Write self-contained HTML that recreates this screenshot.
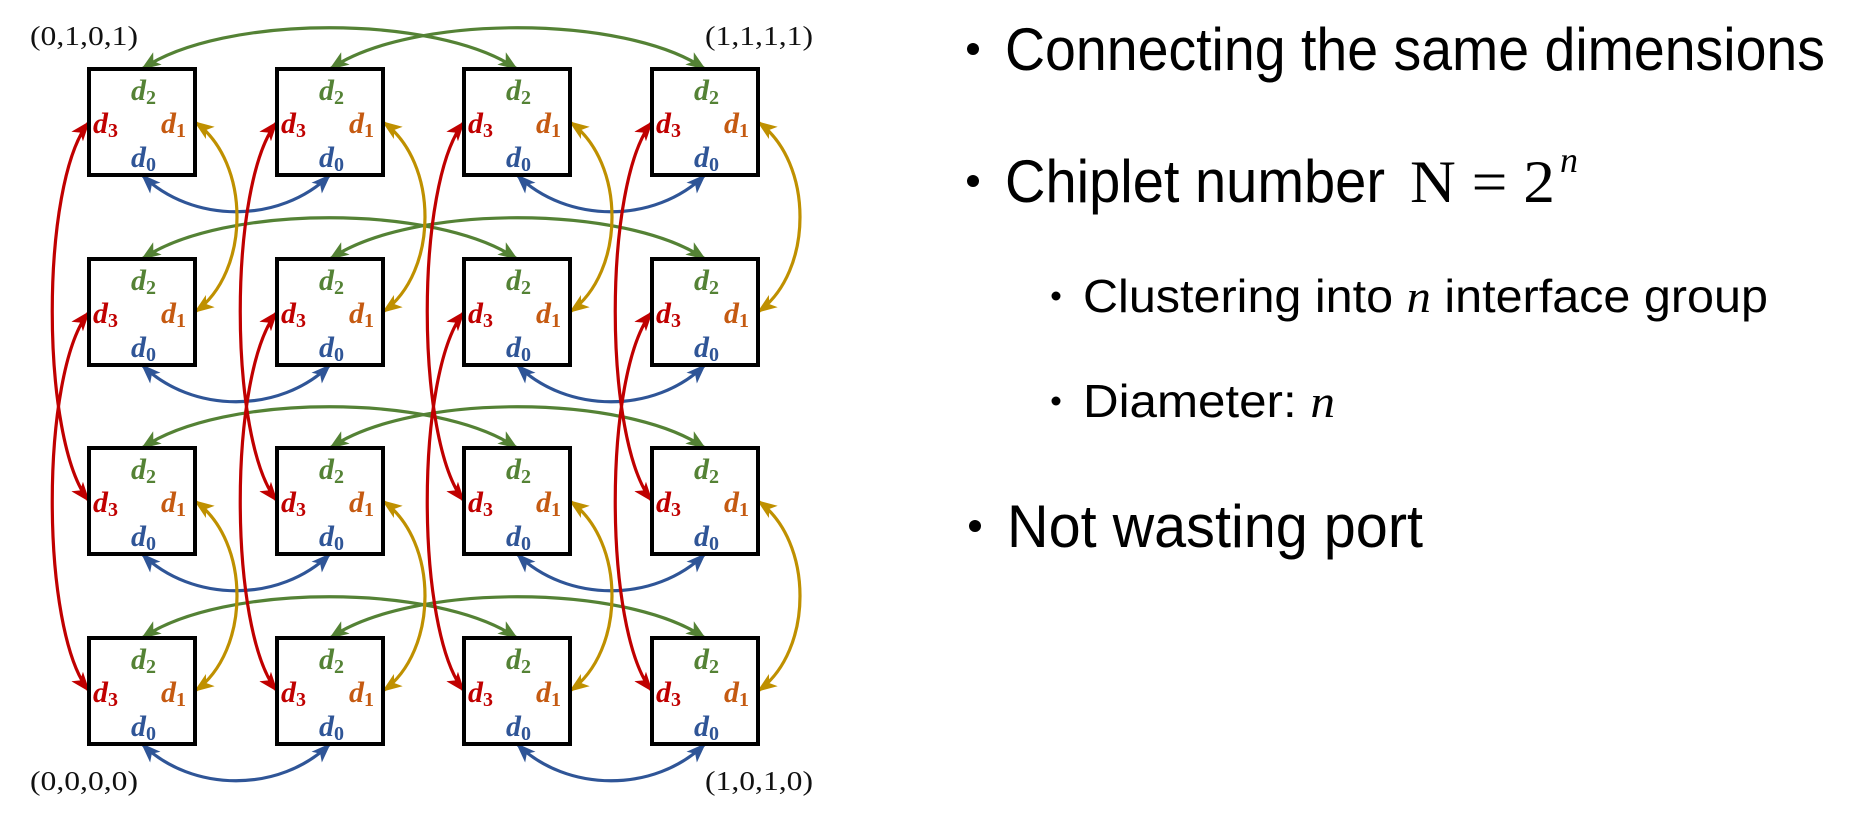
<!DOCTYPE html>
<html><head><meta charset="utf-8"><style>
html,body{margin:0;padding:0;background:#fff;}
svg{display:block;}
.dl{font-family:"Liberation Serif",serif;font-weight:bold;font-style:italic;font-size:30px;}
.sb{font-family:"Liberation Serif",serif;font-weight:bold;font-style:normal;font-size:20px;}
.lab{font-family:"Liberation Serif",serif;font-size:27px;fill:#111;}
.t{font-family:"Liberation Sans",sans-serif;fill:#000;}
</style></head><body>
<svg width="1849" height="813" viewBox="0 0 1849 813" xmlns="http://www.w3.org/2000/svg">
<defs>
<marker id="mg" viewBox="0 0 16 12" refX="15" refY="6" markerWidth="20" markerHeight="15" markerUnits="userSpaceOnUse" orient="auto-start-reverse"><path d="M0 0 L16 6 L0 12 L4 6z" fill="#548235"/></marker>
<marker id="mb" viewBox="0 0 16 12" refX="15" refY="6" markerWidth="20" markerHeight="15" markerUnits="userSpaceOnUse" orient="auto-start-reverse"><path d="M0 0 L16 6 L0 12 L4 6z" fill="#2F5597"/></marker>
<marker id="my" viewBox="0 0 16 12" refX="15" refY="6" markerWidth="20" markerHeight="15" markerUnits="userSpaceOnUse" orient="auto-start-reverse"><path d="M0 0 L16 6 L0 12 L4 6z" fill="#BF9000"/></marker>
<marker id="mr" viewBox="0 0 16 12" refX="15" refY="6" markerWidth="20" markerHeight="15" markerUnits="userSpaceOnUse" orient="auto-start-reverse"><path d="M0 0 L16 6 L0 12 L4 6z" fill="#C00000"/></marker>
</defs>
<g id="diagram" fill="none" stroke-width="3.2"></g>
<text class="lab" x="30" y="45" textLength="108" lengthAdjust="spacingAndGlyphs">(0,1,0,1)</text>
<text class="lab" x="705" y="45" textLength="108" lengthAdjust="spacingAndGlyphs">(1,1,1,1)</text>
<text class="lab" x="30" y="790" textLength="108" lengthAdjust="spacingAndGlyphs">(0,0,0,0)</text>
<text class="lab" x="705" y="790" textLength="108" lengthAdjust="spacingAndGlyphs">(1,0,1,0)</text>

<g class="t">
<circle cx="973" cy="49" r="6"/>
<text x="1005" y="70" font-size="60" textLength="820" lengthAdjust="spacingAndGlyphs">Connecting the same dimensions</text>
<circle cx="973" cy="181" r="6"/>
<text x="1005" y="202" font-size="60" textLength="380" lengthAdjust="spacingAndGlyphs">Chiplet number</text>
<text x="1410" y="202" font-size="60" font-family="Liberation Serif" textLength="145" lengthAdjust="spacingAndGlyphs">N = 2</text>
<text x="1560" y="172" font-size="36" font-family="Liberation Serif" font-style="italic">n</text>
<circle cx="1056" cy="296" r="4.5"/>
<text x="1083" y="312" font-size="46" textLength="685" lengthAdjust="spacingAndGlyphs">Clustering into <tspan font-family="Liberation Serif" font-style="italic">n</tspan> interface group</text>
<circle cx="1056" cy="401" r="4.5"/>
<text x="1083" y="417" font-size="46" textLength="252" lengthAdjust="spacingAndGlyphs">Diameter: <tspan font-family="Liberation Serif" font-style="italic">n</tspan></text>
<circle cx="975" cy="526" r="6"/>
<text x="1007" y="547" font-size="60" textLength="416" lengthAdjust="spacingAndGlyphs">Not wasting port</text>
</g>
</svg>
<script>
(function(){
var NS="http://www.w3.org/2000/svg",g=document.getElementById("diagram");
var X=[89,277,464,652],Y=[69,259,448,638],W=106;
function p(d,c,m){var e=document.createElementNS(NS,"path");e.setAttribute("d",d);e.setAttribute("stroke",c);e.setAttribute("marker-start","url(#"+m+")");e.setAttribute("marker-end","url(#"+m+")");g.appendChild(e);}
for(var r=0;r<4;r++){
 [[0,2],[1,3]].forEach(function(a){var x1=X[a[0]]+53,x2=X[a[1]]+53,y=Y[r];
  p("M"+x1+" "+y+" C"+(x1+80)+" "+(y-55)+" "+(x2-80)+" "+(y-55)+" "+x2+" "+y,"#548235","mg");});
 [[0,1],[2,3]].forEach(function(a){var x1=X[a[0]]+53,x2=X[a[1]]+53,y=Y[r]+W;
  p("M"+x1+" "+y+" C"+(x1+50)+" "+(y+49)+" "+(x2-50)+" "+(y+49)+" "+x2+" "+y,"#2F5597","mb");});
}
for(var c=0;c<4;c++){
 [[0,1],[2,3]].forEach(function(a){var x=X[c]+W,y1=Y[a[0]]+53,y2=Y[a[1]]+53;
  p("M"+x+" "+y1+" C"+(x+56)+" "+(y1+40)+" "+(x+56)+" "+(y2-40)+" "+x+" "+y2,"#BF9000","my");});
 [[0,2],[1,3]].forEach(function(a){var x=X[c],y1=Y[a[0]]+53,y2=Y[a[1]]+53;
  p("M"+x+" "+y1+" C"+(x-49)+" "+(y1+60)+" "+(x-49)+" "+(y2-60)+" "+x+" "+y2,"#C00000","mr");});
}
for(var r=0;r<4;r++)for(var c=0;c<4;c++){
 var x=X[c],y=Y[r];
 var rc=document.createElementNS(NS,"rect");
 rc.setAttribute("x",x);rc.setAttribute("y",y);rc.setAttribute("width",W);rc.setAttribute("height",W);
 rc.setAttribute("fill","#fff");rc.setAttribute("fill-opacity","0");rc.setAttribute("stroke","#000");rc.setAttribute("stroke-width","4");
 g.appendChild(rc);
 var L=[["2",x+42,y+31,"#548235"],["3",x+4,y+64,"#C00000"],["1",x+72,y+64,"#C55A11"],["0",x+42,y+98,"#2F5597"]];
 L.forEach(function(l){var t=document.createElementNS(NS,"text");t.setAttribute("x",l[1]);t.setAttribute("y",l[2]);
  t.setAttribute("class","dl");t.setAttribute("fill",l[3]);t.setAttribute("stroke","none");t.textContent="d";
  var s=document.createElementNS(NS,"tspan");s.setAttribute("class","sb");s.setAttribute("dy","4");s.textContent=l[0];t.appendChild(s);
  g.appendChild(t);});
}
})();
</script>
</body></html>
